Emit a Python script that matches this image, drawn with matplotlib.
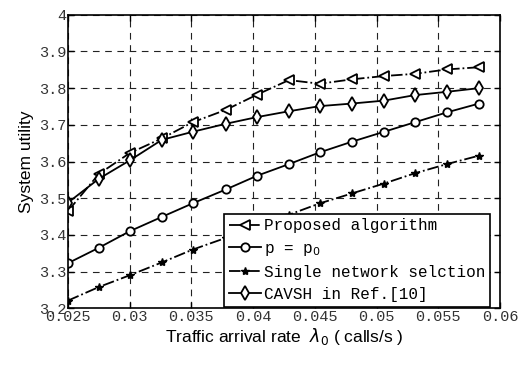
import matplotlib
matplotlib.use("Agg")
import matplotlib.pyplot as plt

rate = [0.025, 0.0275, 0.0300, 0.0326, 0.0351, 0.0378, 0.0403,
        0.0429, 0.0454, 0.0480, 0.0506, 0.0531, 0.0557, 0.0583]
proposed = [3.465, 3.566, 3.623, 3.663, 3.707, 3.741, 3.782,
            3.822, 3.812, 3.824, 3.833, 3.839, 3.851, 3.857]
p_p0 = [3.323, 3.365, 3.410, 3.449, 3.486, 3.524, 3.561,
        3.593, 3.625, 3.654, 3.681, 3.707, 3.734, 3.758]
single = [3.221, 3.258, 3.290, 3.325, 3.360, 3.392, 3.423,
          3.455, 3.486, 3.513, 3.540, 3.568, 3.593, 3.616]
cavsh = [3.488, 3.553, 3.603, 3.659, 3.681, 3.703, 3.721,
         3.737, 3.751, 3.758, 3.766, 3.781, 3.790, 3.800]
labels = ["Proposed algorithm", "p = p$_0$", "Single network selction", "CAVSH in Ref.[10]"]
xticks = [0.025, 0.03, 0.035, 0.04, 0.045, 0.05, 0.055, 0.06]
yticks = [3.2, 3.3, 3.4, 3.5, 3.6, 3.7, 3.8, 3.9, 4.0]

mono = "Liberation Mono"

fig = plt.figure(figsize=(5.23, 3.69), dpi=100)
ax = fig.add_axes([0.130, 0.1645, 0.826, 0.7955])

ax.plot(rate, proposed, "-.", color="k", lw=1.3, marker="<", ms=7, mfc="white", mew=1.3, label=labels[0])
ax.plot(rate, p_p0, "-", color="k", lw=1.3, marker="o", ms=6, mfc="white", mew=1.3, label=labels[1])
ax.plot(rate, single, "-.", color="k", lw=1.3, marker="*", ms=6, mfc="k", label=labels[2])
ax.plot(rate, cavsh, "-", color="k", lw=1.3, marker="d", ms=7, mfc="white", mew=1.3, label=labels[3])

ax.set_xlim(0.025, 0.06)
ax.set_ylim(3.2, 4.0)
ax.set_xticks(xticks)
ax.set_yticks(yticks)
ax.set_xticklabels(["0.025", "0.03", "0.035", "0.04", "0.045", "0.05", "0.055", "0.06"],
                   fontfamily=mono, fontsize=11, color="#333333")
ax.set_yticklabels(["3.2", "3.3", "3.4", "3.5", "3.6", "3.7", "3.8", "3.9", "4"],
                   fontfamily=mono, fontsize=11, color="#333333")
ax.tick_params(direction="in", top=True, right=True, length=4, width=1, pad=1)
ax.grid(True, color="#222222", linestyle=(0, (6, 5)), lw=0.8)
for s in ax.spines.values():
    s.set_linewidth(1.2)

ax.set_xlabel("Traffic arrival rate  $\\lambda_0$ ( calls/s )", fontsize=12.5,
              family="Liberation Sans", labelpad=2)
ax.set_ylabel("System utility", fontsize=12.5, family="Liberation Sans", labelpad=4)

leg = ax.legend(loc="lower right", bbox_to_anchor=(0.977, 0.005), borderaxespad=0,
                prop={"family": mono, "size": 11.5}, fancybox=False, framealpha=1,
                edgecolor="k", handlelength=2.0, handletextpad=0.2, labelspacing=0.45,
                borderpad=0.3)
leg.get_frame().set_linewidth(1.2)

fig.savefig("out.png", dpi=100)
